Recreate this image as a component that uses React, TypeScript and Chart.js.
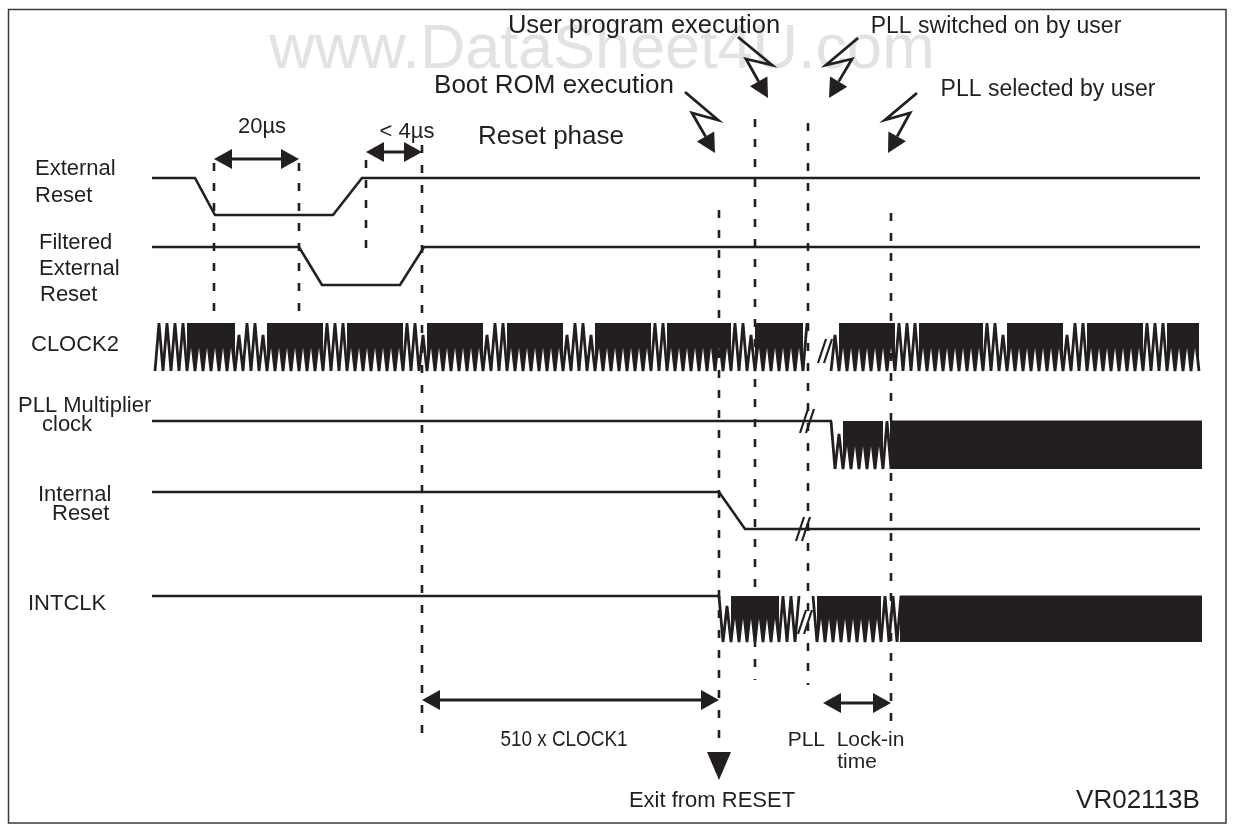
import React, { useEffect, useRef } from "react";
import { Chart, registerables } from "chart.js";

Chart.register(...registerables);

const W = 1234;
const H = 831;
const INK = "#231f20";
const FONT = "'Liberation Sans', Arial, Helvetica, sans-serif";

// ---------- signal data: transition times (diagram time units) and logic levels ----------
const extResetTimes = [152, 195, 215, 333, 362, 1200];
const extResetLevels = [1, 1, 0, 0, 1, 1];
const filtResetTimes = [152, 299, 322, 400, 424, 1200];
const filtResetLevels = [1, 1, 0, 0, 1, 1];
const pllIdleTimes = [152, 832];
const pllIdleLevels = [1, 1];
const intResetTimes = [152, 719, 745, 1200];
const intResetLevels = [1, 1, 0, 0];
const intclkIdleTimes = [152, 719];
const intclkIdleLevels = [1, 1];

// ---------- clocks: running intervals, period, merged bursts, dense (multiplied) spans ----------
const clock2Runs = [[155, 808], [831, 1202]];
const clock2Period = 8;
const clock2StartLevel = 0;
const clock2Bursts = [
  [183, 242], [260, 325], [343, 403], [422, 488], [507, 570], [588, 653], [667, 733],
  [750, 805], [834, 895], [915, 985], [1000, 1068], [1083, 1145], [1163, 1202],
];
const pllRuns = [[831, 891]];
const pllPeriod = 8;
const pllStartLevel = 1;
const pllBursts = [[838, 884]];
const pllDense = [[890, 1202]];
const intclkRuns = [[719, 799], [813, 901]];
const intclkPeriod = 8;
const intclkStartLevel = 1;
const intclkBursts = [[725, 782], [815, 885]];
const intclkDense = [[900, 1202]];

// ---------- timing markers (dashed verticals) ----------
const markerTimes = [214, 299, 366, 422, 719, 755, 808, 891];
const markerFrom = [163, 163, 160, 145, 210, 119, 123, 213];
const markerTo = [318, 318, 255, 735, 748, 680, 685, 726];

// ---------- dimension arrows ----------
const dimFrom = [214, 366, 422, 823];
const dimTo = [299, 422, 719, 891];
const dimRow = [159, 152, 700, 703];

// ---------- lane layout ----------
const LANES: Record<string, { hi: number; lo: number; inner?: number }> = {
  ext: { hi: 178, lo: 215 },
  filt: { hi: 247, lo: 285 },
  clk2: { hi: 323, lo: 371, inner: 335 },
  pll: { hi: 421, lo: 469, inner: 434 },
  intr: { hi: 492, lo: 529 },
  intclk: { hi: 596, lo: 642, inner: 606 },
};

// ---------- annotation text ----------
const laneLabels = [
  { t: "External", x: 35, y: 169 }, { t: "Reset", x: 35, y: 196 },
  { t: "Filtered", x: 39, y: 243 }, { t: "External", x: 39, y: 269 }, { t: "Reset", x: 40, y: 295 },
  { t: "CLOCK2", x: 31, y: 345 },
  { t: "PLL Multiplier", x: 18, y: 406 }, { t: "clock", x: 42, y: 425 },
  { t: "Internal", x: 38, y: 495 }, { t: "Reset", x: 52, y: 514 },
  { t: "INTCLK", x: 28, y: 604 },
];
const topNotes = [
  { t: "User program execution", x: 644, y: 26, s: 25.5, k: 1 },
  { t: "PLL switched on by user", x: 996, y: 27, s: 23, k: 1 },
  { t: "Boot ROM execution", x: 554, y: 86, s: 26, k: 1 },
  { t: "PLL selected by user", x: 1048, y: 90, s: 23, k: 1 },
  { t: "20µs", x: 262, y: 127, s: 22, k: 1 },
  { t: "< 4µs", x: 407, y: 132, s: 22, k: 1 },
  { t: "Reset phase", x: 551, y: 137, s: 26, k: 1 },
];
const bottomNotes = [
  { t: "510 x CLOCK1", x: 564, y: 740, s: 22, k: 0.86 },
  { t: "PLL  Lock-in", x: 846, y: 740, s: 21, k: 1 },
  { t: "time", x: 857, y: 762, s: 21, k: 1 },
  { t: "Exit from RESET", x: 712, y: 801, s: 22, k: 1 },
  { t: "VR02113B", x: 1138, y: 801, s: 26, k: 1 },
];
// lightning pointers: start, kink, kink, tip
const pointers = [
  [[685, 92], [718, 120], [692, 113], [715, 153]],
  [[738, 37], [772, 65], [746, 59], [768, 98]],
  [[858, 38], [826, 65], [852, 59], [829, 98]],
  [[917, 93], [885, 120], [910, 113], [888, 153]],
];
const breakMarks = [
  { x: 825, y: 351 },
  { x: 807, y: 421 },
  { x: 803, y: 529 },
  { x: 805, y: 622 },
];
const exitArrow = { x: 719, y: 752, tip: 780 };

type P = { x: number; y: number };

function steps(times: number[], levels: number[], lane: { hi: number; lo: number }): P[] {
  return times.map((t, i) => ({ x: t, y: levels[i] ? lane.hi : lane.lo }));
}

function zigzag(run: number[], period: number, startLevel: number, bursts: number[][], lane: any): P[] {
  const pts: P[] = [];
  const half = period / 2;
  let k = 0;
  for (let x = run[0]; x <= run[1] + 0.01; x += half, k++) {
    const high = (k % 2 === 0) === (startLevel === 1);
    const inB = bursts.some(([s, e]) => x > s && x < e);
    pts.push({ x, y: high ? (inB ? lane.inner : lane.hi) : lane.lo });
  }
  return pts;
}

function burstFill(pts: P[], burst: number[], lane: any): P[] {
  let sel = pts.filter((p) => p.x >= burst[0] && p.x <= burst[1]);
  while (sel.length && sel[0].y !== lane.lo) sel = sel.slice(1);
  while (sel.length && sel[sel.length - 1].y !== lane.lo) sel = sel.slice(0, -1);
  return sel;
}

const lineDs = (data: P[], extra: any = {}) => ({
  data,
  borderColor: INK,
  backgroundColor: "transparent",
  borderWidth: 2.6,
  pointRadius: 0,
  fill: false,
  tension: 0,
  ...extra,
});

function clockDatasets(runs: number[][], period: number, start: number, bursts: number[][], dense: number[][], lane: any) {
  const out: any[] = [];
  runs.forEach((run) => {
    const pts = zigzag(run, period, start, bursts, lane);
    out.push(lineDs(pts, { borderWidth: 2.8, borderJoinStyle: "bevel" }));
    bursts.forEach((b) => {
      const f = burstFill(pts, b, lane);
      if (f.length > 1) {
        out.push({
          data: f,
          borderColor: INK,
          borderWidth: 1,
          borderJoinStyle: "bevel",
          backgroundColor: INK,
          pointRadius: 0,
          tension: 0,
          fill: { value: lane.hi },
        });
      }
    });
  });
  dense.forEach(([a, b]) => {
    out.push({
      data: [{ x: a, y: lane.hi }, { x: b, y: lane.hi }],
      borderColor: INK,
      borderWidth: 1,
      backgroundColor: INK,
      pointRadius: 0,
      tension: 0,
      fill: { value: lane.lo },
    });
  });
  return out;
}

function buildDatasets() {
  const ds: any[] = [];
  ds.push(lineDs(steps(extResetTimes, extResetLevels, LANES.ext)));
  ds.push(lineDs(steps(filtResetTimes, filtResetLevels, LANES.filt)));
  ds.push(lineDs(steps(pllIdleTimes, pllIdleLevels, LANES.pll)));
  ds.push(lineDs(steps(intResetTimes, intResetLevels, LANES.intr)));
  ds.push(lineDs(steps(intclkIdleTimes, intclkIdleLevels, LANES.intclk)));
  ds.push(...clockDatasets(clock2Runs, clock2Period, clock2StartLevel, clock2Bursts, [], LANES.clk2));
  ds.push(...clockDatasets(pllRuns, pllPeriod, pllStartLevel, pllBursts, pllDense, LANES.pll));
  ds.push(...clockDatasets(intclkRuns, intclkPeriod, intclkStartLevel, intclkBursts, intclkDense, LANES.intclk));
  markerTimes.forEach((t, i) => {
    ds.push(lineDs([{ x: t, y: markerFrom[i] }, { x: t, y: markerTo[i] }], { borderDash: [8, 12], borderWidth: 2.6 }));
  });
  return ds;
}

const annotations = {
  id: "timingAnnotations",
  beforeDraw(chart: any) {
    const ctx = chart.ctx;
    const sx = (v: number) => chart.scales.x.getPixelForValue(v);
    const sy = (v: number) => chart.scales.y.getPixelForValue(v);
    ctx.save();
    ctx.fillStyle = "#ffffff";
    ctx.fillRect(0, 0, chart.width, chart.height);
    ctx.fillStyle = "#e2e2e2";
    ctx.font = `63px ${FONT}`;
    ctx.textAlign = "center";
    ctx.textBaseline = "alphabetic";
    ctx.fillText("www.DataSheet4U.com", sx(602), sy(68));
    ctx.restore();
  },
  afterDatasetsDraw(chart: any) {
    const ctx = chart.ctx;
    const sx = (v: number) => chart.scales.x.getPixelForValue(v);
    const sy = (v: number) => chart.scales.y.getPixelForValue(v);
    ctx.save();
    ctx.fillStyle = INK;
    ctx.strokeStyle = INK;

    // frame
    ctx.lineWidth = 1.5;
    ctx.strokeStyle = "#3a3a3a";
    ctx.strokeRect(sx(8.5), sy(9.5), sx(1226) - sx(8.5), sy(823) - sy(9.5));
    ctx.strokeStyle = INK;

    // text
    ctx.textBaseline = "middle";
    ctx.textAlign = "left";
    ctx.font = `22px ${FONT}`;
    laneLabels.forEach((l) => ctx.fillText(l.t, sx(l.x), sy(l.y)));
    ctx.textAlign = "center";
    [...topNotes, ...bottomNotes].forEach((l) => {
      ctx.font = `${l.s}px ${FONT}`;
      ctx.save();
      ctx.translate(sx(l.x), sy(l.y));
      ctx.scale(l.k, 1);
      ctx.fillText(l.t, 0, 0);
      ctx.restore();
    });

    // dimension arrows
    const head = (tx: number, ty: number, dx: number, dy: number, len: number, hw: number) => {
      const n = Math.hypot(dx, dy);
      const ux = dx / n, uy = dy / n;
      const bx = tx - ux * len, by = ty - uy * len;
      ctx.beginPath();
      ctx.moveTo(tx, ty);
      ctx.lineTo(bx - uy * hw, by + ux * hw);
      ctx.lineTo(bx + uy * hw, by - ux * hw);
      ctx.closePath();
      ctx.fill();
      return [bx, by];
    };
    ctx.lineWidth = 3;
    dimFrom.forEach((a, i) => {
      const x1 = sx(a), x2 = sx(dimTo[i]), y = sy(dimRow[i]);
      ctx.beginPath();
      ctx.moveTo(x1 + 10, y);
      ctx.lineTo(x2 - 10, y);
      ctx.stroke();
      head(x1, y, -1, 0, 18, 10);
      head(x2, y, 1, 0, 18, 10);
    });

    // lightning pointers
    ctx.lineWidth = 2.8;
    ctx.lineJoin = "miter";
    pointers.forEach((p) => {
      const [a, b, c, t] = p;
      const tx = sx(t[0]), ty = sy(t[1]);
      const cx = sx(c[0]), cy = sy(c[1]);
      const [bx, by] = head(tx, ty, tx - cx, ty - cy, 19, 10);
      ctx.beginPath();
      ctx.moveTo(sx(a[0]), sy(a[1]));
      ctx.lineTo(sx(b[0]), sy(b[1]));
      ctx.lineTo(cx, cy);
      ctx.lineTo(bx, by);
      ctx.stroke();
    });

    // exit-from-reset triangle
    ctx.beginPath();
    ctx.moveTo(sx(exitArrow.x - 12), sy(exitArrow.y));
    ctx.lineTo(sx(exitArrow.x + 12), sy(exitArrow.y));
    ctx.lineTo(sx(exitArrow.x), sy(exitArrow.tip));
    ctx.closePath();
    ctx.fill();

    // break marks
    ctx.lineWidth = 2.2;
    breakMarks.forEach((m) => {
      [-3, 3].forEach((o) => {
        ctx.beginPath();
        ctx.moveTo(sx(m.x + o - 4), sy(m.y + 12));
        ctx.lineTo(sx(m.x + o + 4), sy(m.y - 12));
        ctx.stroke();
      });
    });
    ctx.restore();
  },
};

export default function App() {
  const ref = useRef<HTMLCanvasElement | null>(null);
  useEffect(() => {
    document.body.style.margin = "0";
    const canvas = ref.current!;
    const chart = new Chart(canvas, {
      type: "line",
      data: { datasets: buildDatasets() },
      options: {
        responsive: false,
        animation: false,
        devicePixelRatio: 1,
        events: [],
        layout: { padding: 0 },
        plugins: { legend: { display: false }, tooltip: { enabled: false } },
        scales: {
          x: { type: "linear", min: 0, max: W, display: false },
          y: { type: "linear", min: 0, max: H, reverse: true, display: false },
        },
      },
      plugins: [annotations],
    } as any);
    return () => chart.destroy();
  }, []);
  return (
    <div style={{ position: "fixed", left: 0, top: 0, width: W, height: H, background: "#fff" }}>
      <canvas ref={ref} width={W} height={H} style={{ display: "block" }} />
    </div>
  );
}
